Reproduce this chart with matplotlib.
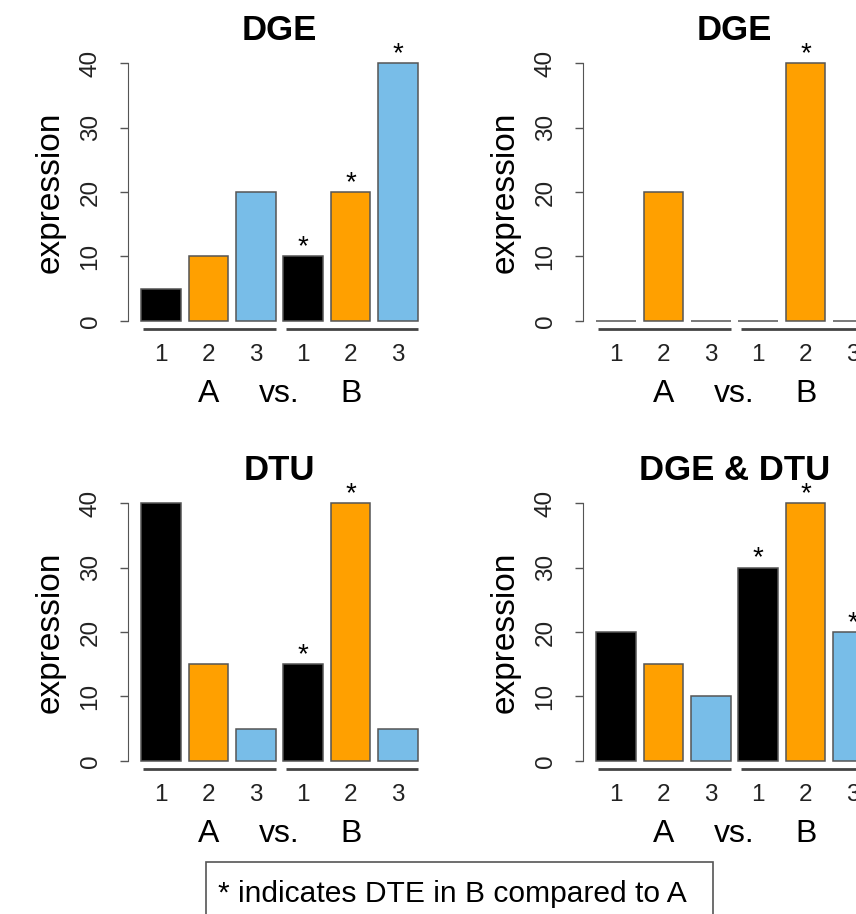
import matplotlib
matplotlib.use("Agg")
import matplotlib.pyplot as plt
import matplotlib.transforms as mtransforms
from matplotlib.patches import Rectangle

plt.rcParams['font.family'] = ['Liberation Sans', 'DejaVu Sans']

# data for the four panels (top-left, top-right, bottom-left, bottom-right)
titles = ["DGE", "DGE", "DTU", "DGE & DTU"]
cond_a = [[5, 10, 20], [0, 20, 0], [40, 15, 5], [20, 15, 10]]
cond_b = [[10, 20, 40], [0, 40, 0], [15, 40, 5], [30, 40, 20]]
stars_b = [[1, 1, 1], [0, 1, 0], [1, 1, 0], [1, 1, 1]]
isoforms = ["1", "2", "3"]
groups = ["A", "vs.", "B"]
iso_colors = ["black", "#FFA000", "#78BDE8"]
y_ticks = [0, 10, 20, 30, 40]
note = "* indicates DTE in B compared to A"

W, H = 856, 914
fig = plt.figure(figsize=(W / 100, H / 100), dpi=100)


def fx(x):
    return x / W


def fy(y):
    return 1 - y / H


# barplot-style positions: width 1, space 0.2
xpos = [0.7 + 1.2 * i for i in range(6)]
origins = [(128, 0), (583, 0), (128, 440), (583, 440)]
edge = "#555555"

for k in range(4):
    ox, oy = origins[k]
    ax = fig.add_axes([fx(ox), fy(331.3 + oy), 303 / W, 278.6 / H])
    heights = cond_a[k] + cond_b[k]
    ax.bar(xpos, heights, width=1.0, color=iso_colors * 2,
           edgecolor=edge, linewidth=1.1)
    ax.set_xlim(-0.13, 7.53)
    ax.set_ylim(-1.6, 41.6)

    for s in ["top", "right", "bottom"]:
        ax.spines[s].set_visible(False)
    ax.spines["left"].set_bounds(0, 40)
    ax.spines["left"].set_color(edge)

    ax.set_yticks(y_ticks)
    ax.tick_params(axis="y", length=6, width=1, color=edge, labelsize=17.5,
                   pad=13, labelrotation=90, labelcolor="#222222")
    for lab in ax.get_yticklabels():
        lab.set_va("center")
    ax.set_xticks(xpos, isoforms * 2)
    ax.tick_params(axis="x", length=0, labelsize=17.5, pad=9.3,
                   labelcolor="#222222")

    # group underlines
    ax.plot([xpos[0] - 0.45, xpos[2] + 0.5], [-1.24, -1.24], color="#444444",
            lw=2, solid_capstyle="butt", clip_on=False)
    ax.plot([xpos[3] - 0.43, xpos[5] + 0.5], [-1.24, -1.24], color="#444444",
            lw=2, solid_capstyle="butt", clip_on=False)

    # asterisks for DTE in B
    for i in range(3):
        if stars_b[k][i]:
            ax.text(xpos[3 + i], cond_b[k][i] + 0.3, "*", ha="center",
                    va="baseline", fontsize=20)

    ax.set_title(titles[k], fontsize=25, fontweight="bold", pad=9)

    trans = mtransforms.blended_transform_factory(ax.transData, fig.transFigure)
    gx = [(xpos[0] + xpos[2]) / 2, (xpos[2] + xpos[3]) / 2, (xpos[3] + xpos[5]) / 2]
    for g, x in zip(groups, gx):
        ax.text(x, fy(402 + oy), g, transform=trans, ha="center",
                va="baseline", fontsize=23, clip_on=False)

    ytrans = mtransforms.blended_transform_factory(fig.transFigure, ax.transData)
    ax.text(fx(59 + ox - 128), 20, "expression", transform=ytrans,
            rotation=90, rotation_mode="anchor", ha="center", va="baseline",
            fontsize=24)

# note box at the bottom
fig.patches.append(Rectangle((fx(206), fy(940)), (713 - 206) / W, 78 / H,
                             transform=fig.transFigure, fill=False,
                             edgecolor=edge, linewidth=1.2))
fig.text(fx(218), fy(902), note, ha="left", va="baseline", fontsize=21.6)

fig.savefig("out.png", dpi=100)
